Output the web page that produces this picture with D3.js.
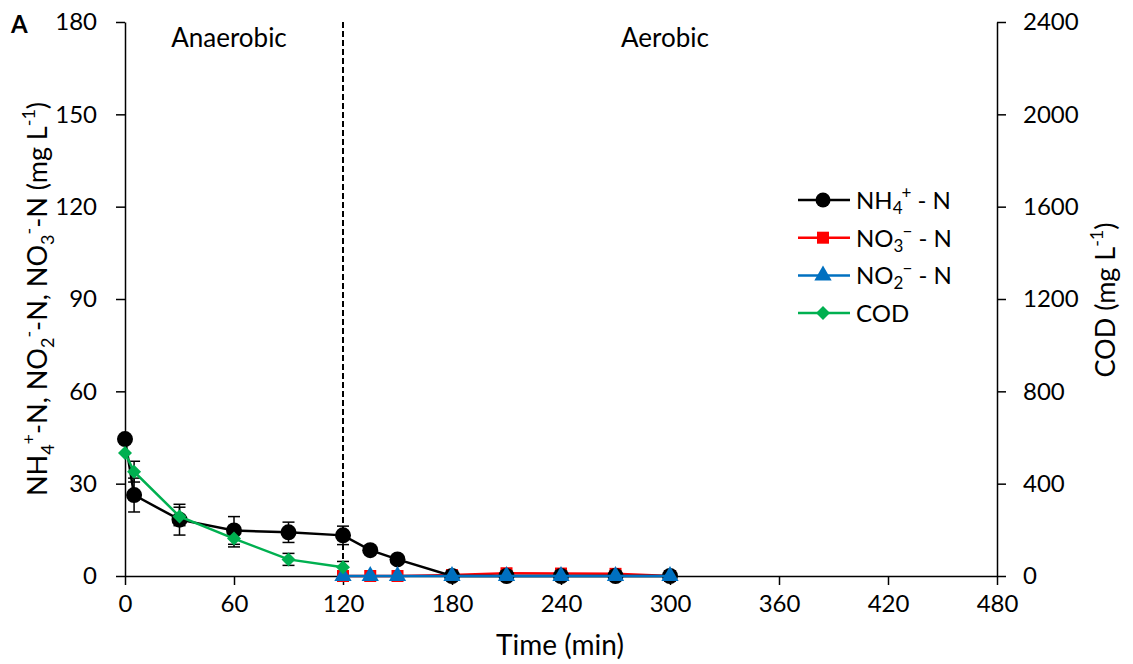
<!DOCTYPE html>
<html><head><meta charset="utf-8">
<script src="https://cdn.jsdelivr.net/npm/d3@7"></script>
<style>body{margin:0;background:#fff}svg{font-family:Lato,"Open Sans",sans-serif}</style>
</head><body><svg id="c" width="1133" height="664"></svg>
<script>
const time = [0,5,30,60,90,120,135,150,180,210,240,270,300];
const nh4 = [44.5,26.3,18.3,14.8,14.2,13.2,8.4,5.4,0,0,0,0,0];
const nh4Err = [0,5.5,5,4.5,3.3,3,0,0,0,0,0,0,0];
const timeN = [120,135,150,180,210,240,270,300];
const no3 = [0,0,0,0.3,0.9,0.8,0.7,0];
const no2 = [0,0,0,0,0,0,0,0];
const timeCod = [0,5,30,60,90,120];
const cod = [533,452,258,162,72,38];
const codErr = [0,45,40,36,26,25];
const xTicks = [0,60,120,180,240,300,360,420,480];
const yTicks = [0,30,60,90,120,150,180];
const y2Ticks = [0,400,800,1200,1600,2000,2400];

const svg = d3.select("#c");
const L=125,R=997,T=22,B=576;
const x=d3.scaleLinear().domain([0,480]).range([L,R]);
const y=d3.scaleLinear().domain([0,180]).range([B,T]);
const y2=d3.scaleLinear().domain([0,2400]).range([B,T]);

function styleAxis(g){g.select(".domain").attr("stroke","#000").attr("stroke-width",1.5);
 g.selectAll(".tick line").attr("stroke","#000").attr("stroke-width",1.5);
 g.selectAll("text").attr("font-size",24).attr("fill","#000").attr("font-family","Lato,sans-serif");}
svg.append("g").attr("transform",`translate(0,${B})`).call(d3.axisBottom(x).tickValues(xTicks).tickSize(9).tickSizeOuter(0).tickPadding(10)).call(styleAxis);
svg.append("g").attr("transform",`translate(${L},0)`).call(d3.axisLeft(y).tickValues(yTicks).tickSize(9).tickSizeOuter(0).tickPadding(19)).call(styleAxis);
svg.append("g").attr("transform",`translate(${R},0)`).call(d3.axisRight(y2).tickValues(y2Ticks).tickFormat(d3.format("d")).tickSize(9).tickSizeOuter(0).tickPadding(17)).call(styleAxis);

svg.append("line").attr("x1",x(120)).attr("x2",x(120)).attr("y1",T).attr("y2",B).attr("stroke","#000").attr("stroke-width",2).attr("stroke-dasharray","6,3");

const line=(xs,ys,sc)=>d3.line().x((d,i)=>x(xs[i])).y(d=>sc(d))(ys);
function errBars(xs,vals,errs,sc){
  xs.forEach((t,i)=>{ if(!errs[i]) return;
    const g=svg.append("g").attr("stroke","#000").attr("stroke-width",1.5);
    g.append("line").attr("x1",x(t)).attr("x2",x(t)).attr("y1",sc(vals[i]-errs[i])).attr("y2",sc(vals[i]+errs[i]));
    [vals[i]-errs[i],vals[i]+errs[i]].forEach(v=>g.append("line").attr("x1",x(t)-6).attr("x2",x(t)+6).attr("y1",sc(v)).attr("y2",sc(v)));
  });
}
errBars(time,nh4,nh4Err,y);
errBars(timeCod,cod,codErr,y2);

svg.append("path").attr("d",line(timeN,no3,y)).attr("fill","none").attr("stroke","#ff0000").attr("stroke-width",2.5);
timeN.forEach((t,i)=>svg.append("rect").attr("x",x(t)-6).attr("y",y(no3[i])-6).attr("width",12).attr("height",12).attr("fill","#ff0000"));
svg.append("path").attr("d",line(time,nh4,y)).attr("fill","none").attr("stroke","#000").attr("stroke-width",2.5);
time.forEach((t,i)=>svg.append("circle").attr("cx",x(t)).attr("cy",y(nh4[i])).attr("r",8).attr("fill","#000"));
svg.append("path").attr("d",line(timeN,no2,y)).attr("fill","none").attr("stroke","#0070c0").attr("stroke-width",2.5);
const tri=d3.symbol().type(d3.symbolTriangle).size(130);
timeN.forEach((t,i)=>svg.append("path").attr("d",tri()).attr("transform",`translate(${x(t)},${y(no2[i])})`).attr("fill","#0070c0"));
svg.append("path").attr("d",line(timeCod,cod,y2)).attr("fill","none").attr("stroke","#00b050").attr("stroke-width",2.5);
timeCod.forEach((t,i)=>svg.append("path").attr("d","M0,-7L7,0L0,7L-7,0Z").attr("transform",`translate(${x(t)},${y2(cod[i])})`).attr("fill","#00b050"));

svg.append("text").attr("x",229).attr("y",47).attr("text-anchor","middle").attr("font-size",26).text("Anaerobic");
svg.append("text").attr("x",665).attr("y",47).attr("text-anchor","middle").attr("font-size",26).text("Aerobic");
svg.append("text").attr("x",11).attr("y",33).attr("font-size",24).attr("font-weight","bold").text("A");

svg.append("text").attr("x",560).attr("y",655).attr("text-anchor","middle").attr("font-size",28).text("Time (min)");
const lt=svg.append("text").attr("transform","translate(47,299) rotate(-90)").attr("text-anchor","middle").attr("font-size",27);
lt.append("tspan").text("NH");
lt.append("tspan").attr("font-size",18).attr("dy",7).text("4");
lt.append("tspan").attr("font-size",18).attr("dy",-19).text("+");
lt.append("tspan").attr("dy",12).text("-N, NO");
lt.append("tspan").attr("font-size",18).attr("dy",7).text("2");
lt.append("tspan").attr("font-size",18).attr("dy",-19).text("-");
lt.append("tspan").attr("dy",12).text("-N, NO");
lt.append("tspan").attr("font-size",18).attr("dy",7).text("3");
lt.append("tspan").attr("font-size",18).attr("dy",-19).text("-");
lt.append("tspan").attr("dy",12).text("-N (mg L");
lt.append("tspan").attr("font-size",18).attr("dy",-12).text("-1");
lt.append("tspan").attr("dy",12).text(")");
const rt=svg.append("text").attr("transform","translate(1115,300) rotate(-90)").attr("text-anchor","middle").attr("font-size",27);
rt.append("tspan").text("COD (mg L");
rt.append("tspan").attr("font-size",18).attr("dy",-12).text("-1");
rt.append("tspan").attr("dy",12).text(")");

const leg=[{k:"nh4",c:"#000",lab:["NH","4","+"]},{k:"no3",c:"#ff0000",lab:["NO","3","\u2212"]},{k:"no2",c:"#0070c0",lab:["NO","2","\u2212"]},{k:"cod",c:"#00b050",lab:["COD"]}];
leg.forEach((d,i)=>{
  const yy=200+i*37.7;
  svg.append("line").attr("x1",798).attr("x2",850).attr("y1",yy).attr("y2",yy).attr("stroke",d.c).attr("stroke-width",2.5);
  const g=svg.append("g").attr("transform",`translate(823,${yy})`).attr("fill",d.c);
  if(d.k==="nh4") g.append("circle").attr("r",7.5);
  if(d.k==="no3") g.append("rect").attr("x",-6).attr("y",-6).attr("width",12).attr("height",12);
  if(d.k==="no2") g.append("path").attr("d",tri());
  if(d.k==="cod") g.append("path").attr("d","M0,-7L7,0L0,7L-7,0Z");
  const t=svg.append("text").attr("x",856).attr("y",yy+9).attr("font-size",24);
  t.append("tspan").text(d.lab[0]);
  if(d.lab.length>1){
    t.append("tspan").attr("font-size",17).attr("dy",5).text(d.lab[1]);
    t.append("tspan").attr("font-size",17).attr("dx",-1).attr("dy",-15).text(d.lab[2]);
    t.append("tspan").attr("dy",10).text(" - N");
  }
});
</script></body></html>
